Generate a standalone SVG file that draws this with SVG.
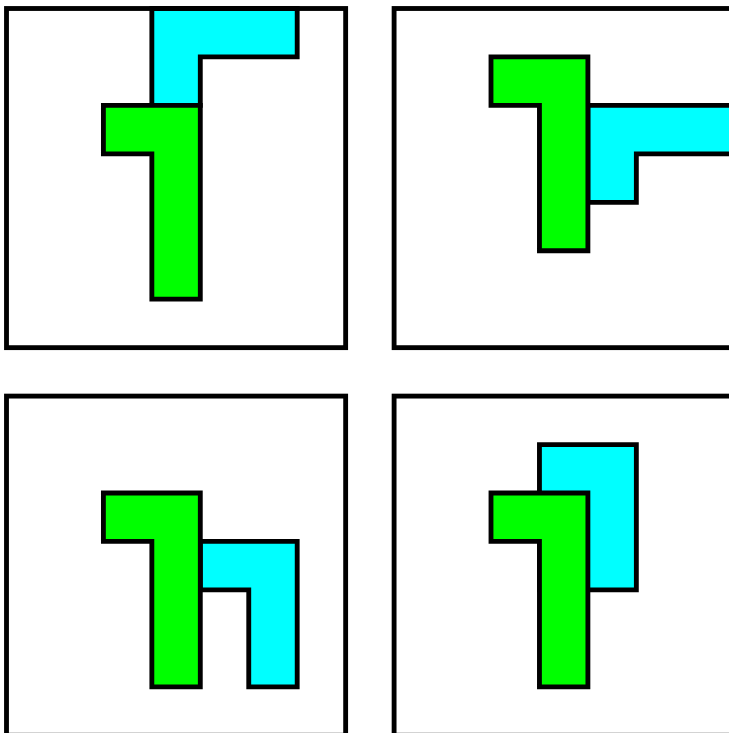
<svg xmlns="http://www.w3.org/2000/svg" width="729" height="733" viewBox="0 0 729 733">
  <style>
    .frame { fill: #ffffff; stroke: #000000; stroke-width: 0.1; }
    .cyan { fill: #00ffff; stroke: #000000; stroke-width: 0.1; }
    .green { fill: #00ff00; stroke: #000000; stroke-width: 0.1; }
  </style>
  <rect x="0" y="0" width="729" height="733" fill="#ffffff"/>
  <g id="panel1" transform="translate(6.5,8.5) scale(48.45)">
    <rect class="frame" x="0" y="0" width="7" height="7"/>
    <polygon id="cyan1" class="cyan" points="3,0 6,0 6,1 4,1 4,2 3,2"/>
    <polygon id="green1" class="green" points="2,2 4,2 4,6 3,6 3,3 2,3"/>
  </g>
  <g id="panel2" transform="translate(394.1,8.5) scale(48.45)">
    <rect class="frame" x="0" y="0" width="7" height="7"/>
    <polygon id="cyan2" class="cyan" points="4,2 7,2 7,3 5,3 5,4 4,4"/>
    <polygon id="green2" class="green" points="2,1 4,1 4,5 3,5 3,2 2,2"/>
  </g>
  <g id="panel3" transform="translate(6.5,396.1) scale(48.45)">
    <rect class="frame" x="0" y="0" width="7" height="7"/>
    <polygon id="cyan3" class="cyan" points="4,3 6,3 6,6 5,6 5,4 4,4"/>
    <polygon id="green3" class="green" points="2,2 4,2 4,6 3,6 3,3 2,3"/>
  </g>
  <g id="panel4" transform="translate(394.1,396.1) scale(48.45)">
    <rect class="frame" x="0" y="0" width="7" height="7"/>
    <polygon id="cyan4" class="cyan" points="3,1 5,1 5,4 3,4"/>
    <polygon id="green4" class="green" points="2,2 4,2 4,6 3,6 3,3 2,3"/>
  </g>
  <g id="connectors"/>
</svg>
